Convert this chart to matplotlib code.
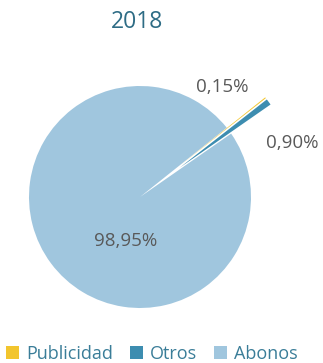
import matplotlib.pyplot as plt

# Data
labels = ["Publicidad", "Otros", "Abonos"]
values = [0.15, 0.90, 98.95]
pct_text = ["0,15%", "0,90%", "98,95%"]
colors = ["#f2c52e", "#3d8db0", "#a0c6de"]

plt.rcParams['font.family'] = ['Open Sans', 'DejaVu Sans']

W, H = 323, 363
fig = plt.figure(figsize=(W / 100, H / 100), dpi=100)
ax = fig.add_axes([0, 0, 1, 1])

R = 111
cx, cy = 140, H - 197
# explode is in data units here (pixels)
wedges, _ = ax.pie(values, colors=colors, startangle=38.6, counterclock=False,
                   radius=R, center=(cx, cy), explode=[49, 49, 0],
                   wedgeprops=dict(linewidth=0), frame=True)
ax.set_xlim(0, W)
ax.set_ylim(0, H)
ax.set_aspect("equal")
ax.axis("off")

# data labels
label_pos = [(222, H - 87), (292, H - 143), (126, H - 241)]
for (x, y), t in zip(label_pos, pct_text):
    ax.text(x, y, t, ha="center", va="center", fontsize=13.5, color="#595959")

ax.text(137, H - 22, "2018", ha="center", va="center", fontsize=16.5, color="#2e6c85")

fig.legend(wedges, labels, loc="lower center", bbox_to_anchor=(0.47, -0.045), ncol=3,
           frameon=False, fontsize=13, handlelength=0.7, handleheight=0.7,
           handletextpad=0.4, columnspacing=0.95, labelcolor="#3a7d98")

fig.savefig("out.png", dpi=100)
